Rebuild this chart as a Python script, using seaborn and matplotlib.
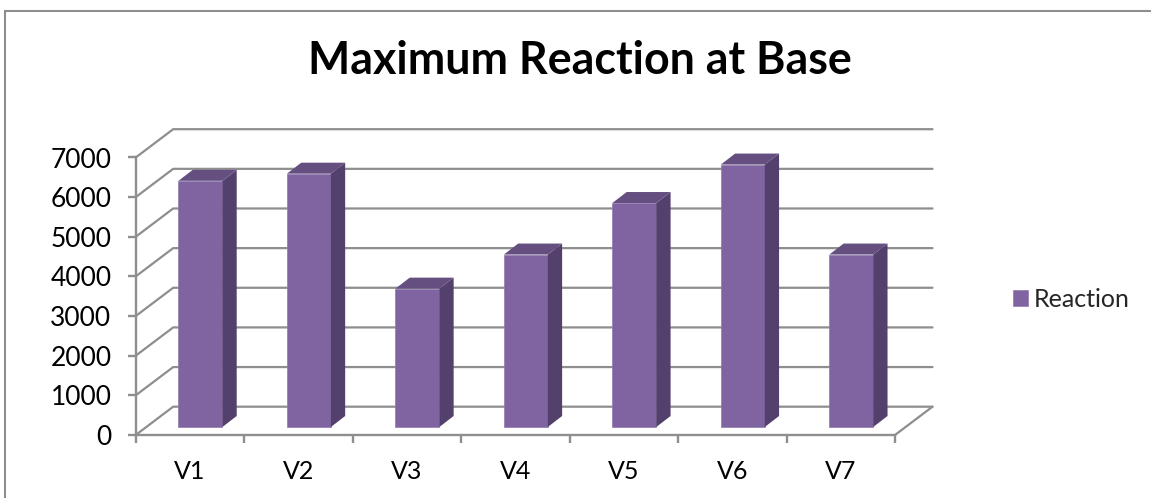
import matplotlib
matplotlib.use("Agg")
import matplotlib.pyplot as plt
import pandas as pd
import seaborn as sns
from matplotlib.patches import Polygon, Rectangle

categories = ["V1", "V2", "V3", "V4", "V5", "V6", "V7"]
reaction = [6210, 6390, 3490, 4350, 5650, 6620, 4350]
y_ticks = [0, 1000, 2000, 3000, 4000, 5000, 6000, 7000]

W, H = 1151, 498
FRONT = "#8064A2"
SIDE = "#54406C"
TOP = "#644F80"
GRID = "#8E8E8E"

sns.set_theme(style="white")
plt.rcParams["font.family"] = ["Lato", "DejaVu Sans"]

fig = plt.figure(figsize=(W / 100, H / 100), dpi=100)
# plot box in pixels: left 135.7, right 895, 0 at 435, 7000 at 157.5
ax = fig.add_axes([135.7 / W, 1 - 435 / H, (895 - 135.7) / W, (435 - 157.5) / H])

px_x = len(categories) / (895 - 135.7)
px_y = 7000 / (435 - 157.5)

df = pd.DataFrame({"cat": categories, "Reaction": reaction})
sns.barplot(data=df, x="cat", y="Reaction", color=FRONT, saturation=1, width=0.405,
            ax=ax, label="Reaction", zorder=3)
ax.set_xlim(-0.5, len(categories) - 0.5)
ax.set_ylim(0, 7000)

# floor / wall depth
wall_dx, wall_dy = 37.5 * px_x, 28.3 * px_y
# bars stand a bit in from the front edge
base_dx, base_dy = 10.5 * px_x, 8 * px_y
bar_dx, bar_dy = 14.3 * px_x, 11 * px_y

x0, x1 = ax.get_xlim()
for v in y_ticks:
    ax.plot([x0, x0 + wall_dx, x1 + wall_dx], [v, v + wall_dy, v + wall_dy],
            color=GRID, lw=1.6, clip_on=False, zorder=1, solid_joinstyle="miter")
ax.plot([x1, x1 + wall_dx], [0, wall_dy], color=GRID, lw=1.6, clip_on=False, zorder=1)

for bar in ax.patches:
    left = bar.get_x() + base_dx
    right = left + bar.get_width()
    bottom = base_dy
    top = bottom + bar.get_height()
    bar.set_x(left)
    bar.set_y(bottom)
    bar.set_clip_on(False)
    bar.set_edgecolor("#8F7AAD")
    bar.set_linewidth(0.5)
    ax.add_patch(Polygon([(right, bottom), (right + bar_dx, bottom + bar_dy),
                          (right + bar_dx, top + bar_dy), (right, top)],
                         closed=True, fc=SIDE, ec="none", clip_on=False, zorder=3))
    ax.add_patch(Polygon([(left, top), (right, top), (right + bar_dx, top + bar_dy),
                          (left + bar_dx, top + bar_dy)],
                         closed=True, fc=TOP, ec="none", clip_on=False, zorder=4))

sns.despine(ax=ax)
for s in ["left", "bottom"]:
    ax.spines[s].set_color(GRID)
    ax.spines[s].set_linewidth(1.7)

ax.set_xlabel("")
ax.set_ylabel("")
ax.set_yticks(y_ticks)
ax.set_xticks([i - 0.5 for i in range(len(categories) + 1)], minor=False)
ax.set_xticklabels([""] * (len(categories) + 1))
ax.tick_params(axis="both", length=5.5, width=1.7, color=GRID, left=True, bottom=True)
ax.tick_params(axis="y", labelsize=19, pad=12, labelcolor="black")
for i, c in enumerate(categories):
    ax.text(i, -920, c, ha="center", va="center", fontsize=18, color="black", clip_on=False)

ax.legend(loc="center left", bbox_to_anchor=(1013 / W, 1 - 299 / H), bbox_transform=fig.transFigure,
          frameon=False, fontsize=18, handlelength=0.6, handleheight=0.6,
          handletextpad=0.25, borderpad=0, borderaxespad=0)

fig.text(580 / W, 1 - 61 / H, "Maximum Reaction at Base", ha="center", va="center",
         fontsize=32.2, fontweight="bold", color="black")

# chart frame
fig.add_artist(Rectangle((4.5 / W, 1 - 600 / H), 1200 / W, 589 / H, transform=fig.transFigure,
                         fc="none", ec=GRID, lw=1.5))

fig.savefig("out.png", dpi=100)
